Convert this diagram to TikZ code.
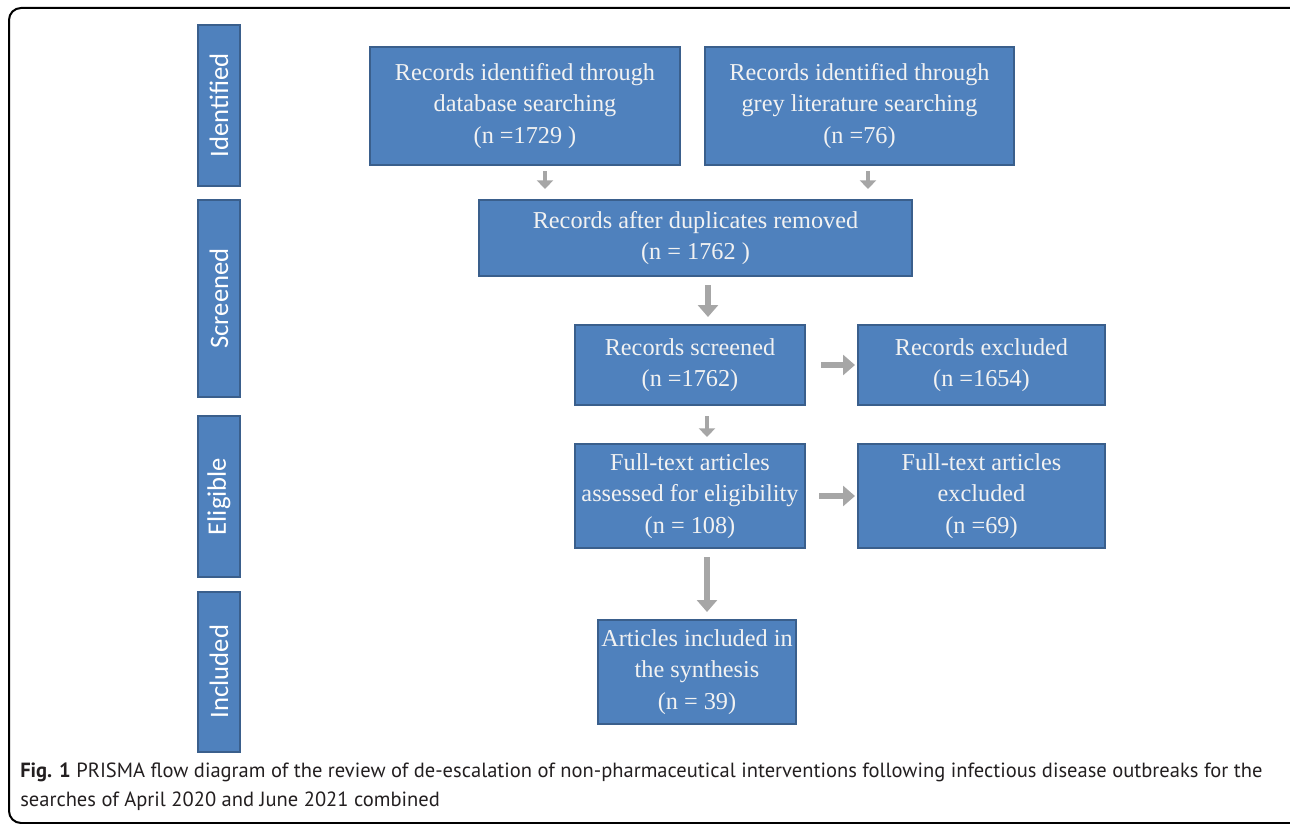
\documentclass[tikz,border=0pt]{standalone}
\usepackage{fontspec}
\setmainfont{Liberation Serif}
\newfontfamily\stagefont{Carlito}
\newfontfamily\capfont{PT Sans}
\usetikzlibrary{positioning,calc,arrows.meta}
\definecolor{boxblue}{HTML}{4F81BD}
\definecolor{boxedge}{HTML}{3A5F8C}
\definecolor{boxtext}{HTML}{F2F2F2}
\definecolor{arrgray}{HTML}{A6A6A6}
\definecolor{captext}{HTML}{231F20}
\tikzset{
  flowbox/.style={draw=boxedge, line width=1.5pt, fill=boxblue, text=boxtext,
    align=center, inner sep=0pt, font=\fontsize{18.2}{23.5}\selectfont,
    execute at begin node={\rule{0pt}{22.5pt}}},
  stagebox/.style={draw=boxedge, line width=1.5pt, fill=boxblue, text=white,
    rotate=90, inner sep=0pt, minimum height={42*0.75pt},
    font=\stagefont\fontsize{20}{24}\selectfont},
  smallarr/.style={draw=arrgray, line width=3pt, -{Triangle[length=6.5pt,width=12pt]}},
  bigarr/.style={draw=arrgray, line width=4.5pt, -{Triangle[length=9pt,width=15pt]}},
  captext/.style={inner sep=0pt, text=captext, font=\capfont\fontsize{15.4}{21.75}\selectfont}
}
\begin{document}
\begin{tikzpicture}[x=0.75pt,y=0.75pt,yscale=-1]
\useasboundingbox (0,0) rectangle (1290,824);
\clip (0,0) rectangle (1290,824);
% frame
\draw [line width=1.5pt, rounded corners=9pt] (9,8) rectangle (1310,823);
% stages
\node [stagebox, minimum width={161*0.75pt}] (ident) at (219,105.5) {Identified};
\node [stagebox, minimum width={197*0.75pt}] (screen) at (219,298.5) {Screened};
\node [stagebox, minimum width={161*0.75pt}] (elig) at (219,496.5) {Eligible};
\node [stagebox, minimum width={160*0.75pt}] (incl) at (219,671.5) {Included};
% boxes
\node [flowbox, minimum width={310*0.75pt}, minimum height={118*0.75pt}] (db) at (525,106) {Records identified through\\database searching\\(n =1729 )};
\node [flowbox, minimum width={309*0.75pt}, minimum height={118*0.75pt}] (grey) at (859.5,106) {Records identified through\\grey literature searching\\(n =76)};
\node [flowbox, minimum width={433*0.75pt}, minimum height={76*0.75pt}] (dup) at (695.5,238) {Records after duplicates removed\\(n = 1762 )};
\node [flowbox, minimum width={230*0.75pt}, minimum height={80*0.75pt}] (scr) at (690,365) {Records screened\\(n =1762)};
\node [flowbox, minimum width={247*0.75pt}, minimum height={80*0.75pt}] (exc) at (981.5,365) {Records excluded\\(n =1654)};
\node [flowbox, minimum width={230*0.75pt}, minimum height={104*0.75pt}] (ft) at (690,496) {Full-text articles\\assessed for eligibility\\(n = 108)};
\node [flowbox, minimum width={247*0.75pt}, minimum height={104*0.75pt}] (fte) at (981.5,496) {Full-text articles\\excluded\\(n =69)};
\node [flowbox, minimum width={198*0.75pt}, minimum height={104*0.75pt}] (inc) at (697,672) {Articles included in\\the synthesis\\(n = 39)};
% arrows
\coordinate (dbarr) at ($(db.south)+(20,0)$);
\coordinate (greyarr) at ($(grey.south)+(8.5,0)$);
\coordinate (duparr) at ($(dup.south)+(12.5,0)$);
\coordinate (scrarr) at ($(scr.south)+(17,0)$);
\coordinate (ftarr) at ($(ft.south)+(17,0)$);
\draw [smallarr, shorten <=3.75pt, shorten >=7.5pt] (dbarr) -- (dbarr |- dup.north);
\draw [smallarr, shorten <=3.75pt, shorten >=7.5pt] (greyarr) -- (greyarr |- dup.north);
\draw [bigarr, shorten <=6pt, shorten >=5.25pt] (duparr) -- (duparr |- scr.north);
\draw [smallarr, shorten <=7.5pt, shorten >=4.5pt] (scrarr) -- (scrarr |- ft.north);
\draw [bigarr, shorten <=11.25pt, shorten >=1.5pt] (scr.east) -- (exc.west);
\draw [bigarr, shorten <=9.75pt, shorten >=1.5pt] (ft.east) -- (fte.west);
\draw [bigarr, shorten <=6pt, shorten >=5.25pt] (ftarr) -- (ftarr |- inc.north);
% caption
\node [captext, anchor=base west] (cap1) at (20,777) {\textbf{Fig. 1} PRISMA flow diagram of the review of de-escalation of non-pharmaceutical interventions following infectious disease outbreaks for the};
\node [captext, anchor=base west] (cap2) at (20,806) {searches of April 2020 and June 2021 combined};
\end{tikzpicture}
\end{document}
